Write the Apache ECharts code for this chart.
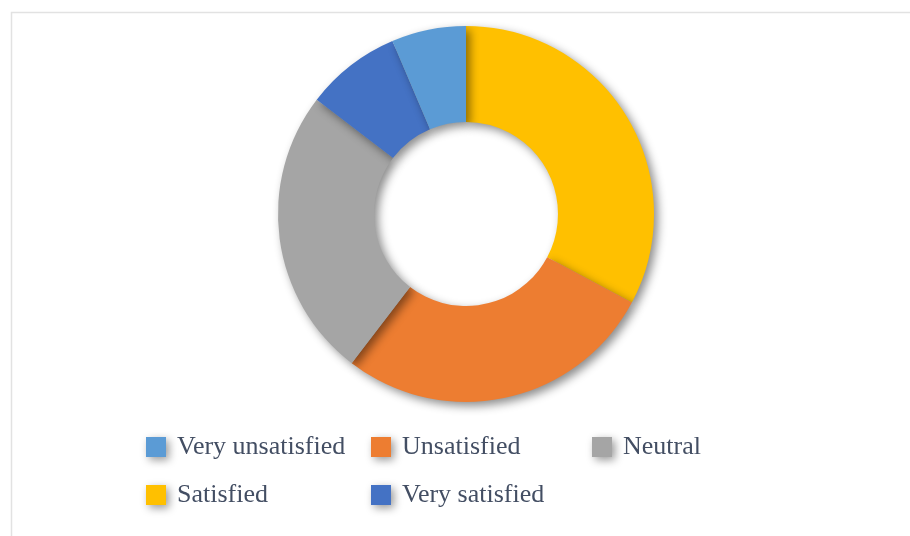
<!DOCTYPE html>
<html>
<head>
<meta charset="utf-8">
<title>Satisfaction</title>
<script src="https://cdn.jsdelivr.net/npm/echarts@6/dist/echarts.min.js"></script>
<style>
  html, body { margin: 0; padding: 0; background: #ffffff; }
  #chart { width: 910px; height: 536px; }
</style>
</head>
<body>
<div id="chart"></div>
<script>
// Share of responses (%), in drawing order, clockwise from 12 o'clock
const sliceNames = ['Satisfied', 'Unsatisfied', 'Neutral', 'Very satisfied', 'Very unsatisfied'];
const sliceValues = [32.8, 27.6, 25.0, 8.2, 6.4];
const sliceColors = ['#FFC000', '#ED7D31', '#A5A5A5', '#4472C4', '#5B9BD5'];

// Legend entries laid out on a two-row grid
const legendNames = ['Very unsatisfied', 'Unsatisfied', 'Neutral', 'Satisfied', 'Very satisfied'];
const legendLeft = [146, 371, 592, 146, 371];
const legendTop = [434, 434, 434, 482, 482];

const chart = echarts.init(document.getElementById('chart'), null, { renderer: 'canvas' });

const textColor = '#434e63';

const legends = legendNames.map((name, i) => ({
  data: [name],
  left: legendLeft[i],
  top: legendTop[i],
  orient: 'horizontal',
  icon: 'rect',
  itemWidth: 20,
  itemHeight: 20,
  itemGap: 0,
  padding: 0,
  selectedMode: false,
  itemStyle: {
    shadowBlur: 8,
    shadowOffsetX: 3,
    shadowOffsetY: 3,
    shadowColor: 'rgba(0,0,0,0.4)'
  },
  textStyle: {
    fontFamily: '"Liberation Serif", "DejaVu Serif", serif',
    fontSize: 26,
    color: textColor,
    padding: [0, 0, 0, 6]
  }
}));

const option = {
  backgroundColor: '#ffffff',
  animation: false,
  graphic: [{
    type: 'rect',
    shape: { x: 11.5, y: 12.5, width: 920, height: 540 },
    style: { fill: 'none', stroke: '#e2e2e2', lineWidth: 1.5 },
    silent: true,
    z: -1
  }],
  legend: legends,
  series: [{
    type: 'pie',
    center: [466, 214],
    radius: [92, 188],
    startAngle: 90,
    clockwise: true,
    avoidLabelOverlap: false,
    label: { show: false },
    labelLine: { show: false },
    emphasis: { disabled: true },
    itemStyle: {
      borderWidth: 0,
      shadowBlur: 10,
      shadowOffsetX: 4,
      shadowOffsetY: 4,
      shadowColor: 'rgba(0,0,0,0.45)'
    },
    data: sliceNames.map((name, i) => ({
      name: name,
      value: sliceValues[i],
      itemStyle: { color: sliceColors[i] }
    }))
  }]
};

chart.setOption(option);
</script>
</body>
</html>
